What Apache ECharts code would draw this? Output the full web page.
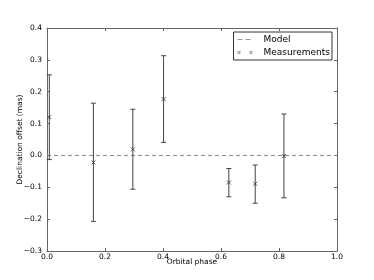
<!DOCTYPE html>
<html><head><meta charset="utf-8">
<script src="https://cdn.jsdelivr.net/npm/echarts@6/dist/echarts.min.js"></script>
<style>html,body{margin:0;padding:0;background:#fff}#c{width:374px;height:280px}</style>
</head><body><div id="c"></div>
<script>
var phase = [0.008, 0.160, 0.296, 0.402, 0.627, 0.718, 0.817];
var offset = [0.120, -0.022, 0.019, 0.177, -0.085, -0.089, -0.002];
var upper = [0.253, 0.164, 0.145, 0.313, -0.041, -0.030, 0.130];
var lower = [-0.013, -0.207, -0.106, 0.041, -0.130, -0.150, -0.133];
var modelX = [0, 1];
var modelY = [0, 0];
var xTicks = [0, 0.2, 0.4, 0.6, 0.8, 1.0];
var yTicks = [-0.3, -0.2, -0.1, 0.0, 0.1, 0.2, 0.3, 0.4];

var font = 'DejaVu Sans';
var fmt = function (v) { var s = v.toFixed(1); if (s === '-0.0') s = '0.0'; return s.replace('-', '\u2212'); };
var chart = echarts.init(document.getElementById('c'), null, {renderer: 'canvas'});
var xMark = 'path://M0,0L10,10M10,0L0,10';

function crossPath(cx, cy, h, t) {
  var d = t / 2;
  var p = function (pts) { return 'M' + pts.map(function (q) { return q[0].toFixed(2) + ',' + q[1].toFixed(2); }).join('L') + 'Z'; };
  return p([[cx - h - d, cy - h + d], [cx - h + d, cy - h - d], [cx + h + d, cy + h - d], [cx + h - d, cy + h + d]]) +
         p([[cx - h - d, cy + h - d], [cx - h + d, cy + h + d], [cx + h + d, cy - h + d], [cx + h - d, cy - h - d]]);
}
var corners = 'M0,0h0.01v0.01h-0.01zM21.99,7.99h0.01v0.01h-0.01z';
var modelIcon = 'path://' + corners + 'M1,3.6h5v0.8h-5zM9,3.6h5v0.8h-5z';
var measIcon = 'path://' + corners + crossPath(2.5, 4, 1.4, 0.55) + crossPath(14.5, 4, 1.4, 0.55);

var errData = phase.map(function (p, i) { return [p, lower[i], upper[i]]; });
chart.setOption({
  animation: false,
  textStyle: {fontFamily: font},
  grid: {left: 47, right: 37, top: 28, bottom: 29, containLabel: false, outerBoundsMode: 'none'},
  xAxis: [{
    type: 'value', min: xTicks[0], max: xTicks[xTicks.length - 1], interval: 0.2,
    name: 'Orbital phase', nameLocation: 'middle', nameGap: 7, nameMoveOverlap: false,
    nameTextStyle: {fontSize: 7.5, color: '#000', fontFamily: font, verticalAlign: 'top'},
    axisLine: {onZero: false, lineStyle: {color: '#666', width: 1}},
    axisTick: {inside: true, length: 3, lineStyle: {color: '#666'}},
    axisLabel: {fontSize: 7.5, color: '#000', margin: 2, formatter: function (v) { return v.toFixed(1); }},
    splitLine: {show: false}
  }, {
    type: 'value', position: 'top', min: 0, max: 1, interval: 0.2,
    axisLine: {show: true, onZero: false, lineStyle: {color: '#666', width: 1}},
    axisTick: {inside: true, length: 3, lineStyle: {color: '#666'}},
    axisLabel: {show: false}, splitLine: {show: false}
  }],
  yAxis: [{
    type: 'value', min: yTicks[0], max: yTicks[yTicks.length - 1], interval: 0.1,
    name: 'Declination offset (mas)', nameLocation: 'middle', nameGap: 23, nameMoveOverlap: false,
    nameTextStyle: {fontSize: 7.5, color: '#000', fontFamily: font},
    axisLine: {show: true, onZero: false, lineStyle: {color: '#666', width: 1}},
    axisTick: {show: true, inside: true, length: 3, lineStyle: {color: '#666'}},
    axisLabel: {fontSize: 7.5, color: '#000', margin: 5, formatter: fmt},
    splitLine: {show: false}
  }, {
    type: 'value', position: 'right', min: -0.3, max: 0.4, interval: 0.1,
    axisLine: {show: true, onZero: false, lineStyle: {color: '#666', width: 1}},
    axisTick: {show: true, inside: true, length: 3, lineStyle: {color: '#666'}},
    axisLabel: {show: false}, splitLine: {show: false}
  }],
  legend: {
    orient: 'vertical', right: 42, top: 32,
    backgroundColor: '#fff', borderColor: '#333', borderWidth: 1, borderRadius: 0,
    padding: [3, 2, 3, 3], itemGap: 4, itemWidth: 22, itemHeight: 8,
    textStyle: {fontSize: 9, color: '#000', fontFamily: font},
    data: [
      {name: 'Model', icon: modelIcon, itemStyle: {color: '#999', borderWidth: 0}},
      {name: 'Measurements', icon: measIcon, itemStyle: {color: '#555', borderWidth: 0}}
    ]
  },
  series: [{
    name: 'Model', type: 'line', data: modelX.map(function (x, i) { return [x, modelY[i]]; }),
    symbol: 'none', lineStyle: {color: '#888', width: 1, type: [4, 3]}, itemStyle: {color: '#888'}, z: 1
  }, {
    name: 'errors', type: 'custom', data: errData, z: 2,
    renderItem: function (params, api) {
      var x = api.value(0);
      var lo = api.coord([x, api.value(1)]);
      var hi = api.coord([x, api.value(2)]);
      var c = 2.5;
      var st = {stroke: '#444', lineWidth: 1, fill: null};
      return {type: 'group', children: [
        {type: 'line', shape: {x1: lo[0], y1: lo[1], x2: hi[0], y2: hi[1]}, style: st},
        {type: 'line', shape: {x1: lo[0] - c, y1: lo[1], x2: lo[0] + c, y2: lo[1]}, style: st},
        {type: 'line', shape: {x1: hi[0] - c, y1: hi[1], x2: hi[0] + c, y2: hi[1]}, style: st}
      ]};
    },
    encode: {x: 0, y: [1, 2]}
  }, {
    name: 'Measurements', type: 'scatter', data: phase.map(function (p, i) { return [p, offset[i]]; }),
    symbol: xMark, symbolSize: 4, z: 3,
    itemStyle: {color: 'none', borderColor: '#333', borderWidth: 1}
  }]
});
</script></body></html>
